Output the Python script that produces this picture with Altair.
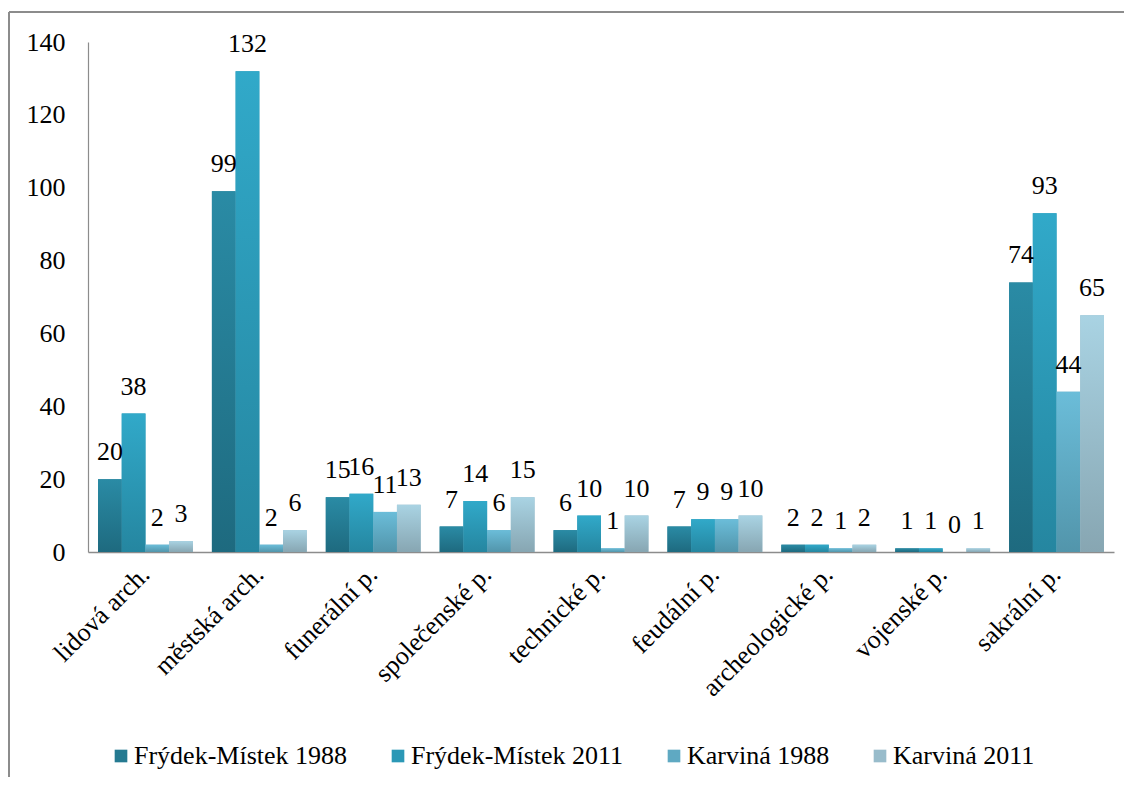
import altair as alt
import pandas as pd

categories = ["lidová arch.", "městská arch.", "funerální p.", "společenské p.",
              "technické p.", "feudální p.", "archeologické p.", "vojenské p.", "sakrální p."]
series_names = ["Frýdek-Místek 1988", "Frýdek-Místek 2011", "Karviná 1988", "Karviná 2011"]
fm_1988 = [20, 99, 15, 7, 6, 7, 2, 1, 74]
fm_2011 = [38, 132, 16, 14, 10, 9, 2, 1, 93]
ka_1988 = [2, 2, 11, 6, 1, 9, 1, 0, 44]
ka_2011 = [3, 6, 13, 15, 10, 10, 2, 1, 65]
y_ticks = [0, 20, 40, 60, 80, 100, 120, 140]

top_colors = ["#2a8ba5", "#31a9c9", "#6bbdd9", "#a9d3e3"]
bottom_colors = ["#1e6a7f", "#2586a0", "#5295ab", "#87a6b2"]
legend_colors = ["#257a91", "#2b98b6", "#5fa9c2", "#98bccb"]

rows = []
for name, vals in zip(series_names, [fm_1988, fm_2011, ka_1988, ka_2011]):
    for c, v in zip(categories, vals):
        rows.append({"kategorie": c, "serie": name, "hodnota": v})
df = pd.DataFrame(rows)

FONT = "Liberation Serif"
FS = 26

x_enc = alt.X("kategorie:N", sort=categories,
              scale=alt.Scale(paddingInner=0.167, paddingOuter=0.088),
              axis=alt.Axis(title=None, labelAngle=-45, labelAlign="right", labelBaseline="middle",
                            labelFont=FONT, labelFontSize=FS, labelColor="#000000",
                            labelPadding=18, ticks=False, tickSize=0,
                            domainColor="#8c8c8c", domainWidth=1.5, labelOverlap=False))
xo_enc = alt.XOffset("serie:N", sort=series_names,
                     scale=alt.Scale(domain=series_names, paddingInner=0, paddingOuter=0))
y_enc = alt.Y("hodnota:Q",
              scale=alt.Scale(domain=[0, 140], nice=False),
              axis=alt.Axis(title=None, values=y_ticks, grid=False, ticks=False, tickSize=0,
                            labelFont=FONT, labelFontSize=FS, labelColor="#000000",
                            labelPadding=23, domainColor="#8c8c8c", domainWidth=1.2))

base = alt.Chart(df)

bars = base.mark_bar().encode(
    x=x_enc, xOffset=xo_enc, y=y_enc,
    color=alt.Color("serie:N", sort=series_names,
                    scale=alt.Scale(domain=series_names, range=legend_colors),
                    legend=alt.Legend(title=None, orient="none", legendX=20, legendY=701,
                                      direction="horizontal", columns=4,
                                      symbolType="square", symbolSize=160, symbolStrokeWidth=0,
                                      labelFont=FONT, labelFontSize=FS, labelColor="#000000",
                                      labelOffset=0, columnPadding=37, labelLimit=400))
)

layers = [bars]
for name, tc, bc in zip(series_names, top_colors, bottom_colors):
    grad = alt.LinearGradient(gradient="linear",
                              stops=[alt.GradientStop(color=tc, offset=0),
                                     alt.GradientStop(color=bc, offset=1)],
                              x1=0, x2=0, y1=0, y2=1)
    layers.append(
        base.transform_filter(alt.datum.serie == name).mark_bar(color=grad).encode(
            x=alt.X("kategorie:N", sort=categories), xOffset=alt.XOffset("serie:N", sort=series_names),
            y="hodnota:Q")
    )

labels = base.mark_text(font=FONT, fontSize=FS, color="#000000", dy=-19,
                        baseline="alphabetic", align="center").encode(
    x=alt.X("kategorie:N", sort=categories), xOffset=alt.XOffset("serie:N", sort=series_names),
    y="hodnota:Q", text="hodnota:Q")
layers.append(labels)

frame_top = alt.Chart(pd.DataFrame({"a": [0]})).mark_rule(color="#8c8c8c", strokeWidth=2).encode(
    x=alt.value(-79), x2=alt.value(1100), y=alt.value(-30))
frame_left = alt.Chart(pd.DataFrame({"a": [0]})).mark_rule(color="#8c8c8c", strokeWidth=2).encode(
    x=alt.value(-79), y=alt.value(-30), y2=alt.value(800))
layers += [frame_top, frame_left]

chart = alt.layer(*layers).properties(
    width=1026, height=510,
    autosize=alt.AutoSizeParams(type="none"),
    padding={"left": 80, "top": 34, "right": 10, "bottom": 225},
    background="#ffffff",
).configure(font=FONT).configure_axis(
    labelFont=FONT, labelFontSize=FS
).configure_text(font=FONT, fontSize=FS).configure_legend(
    labelFont=FONT, labelFontSize=FS
).configure_view(stroke=None)

chart.save("out.html", embed_options={"renderer": "svg", "actions": False})
